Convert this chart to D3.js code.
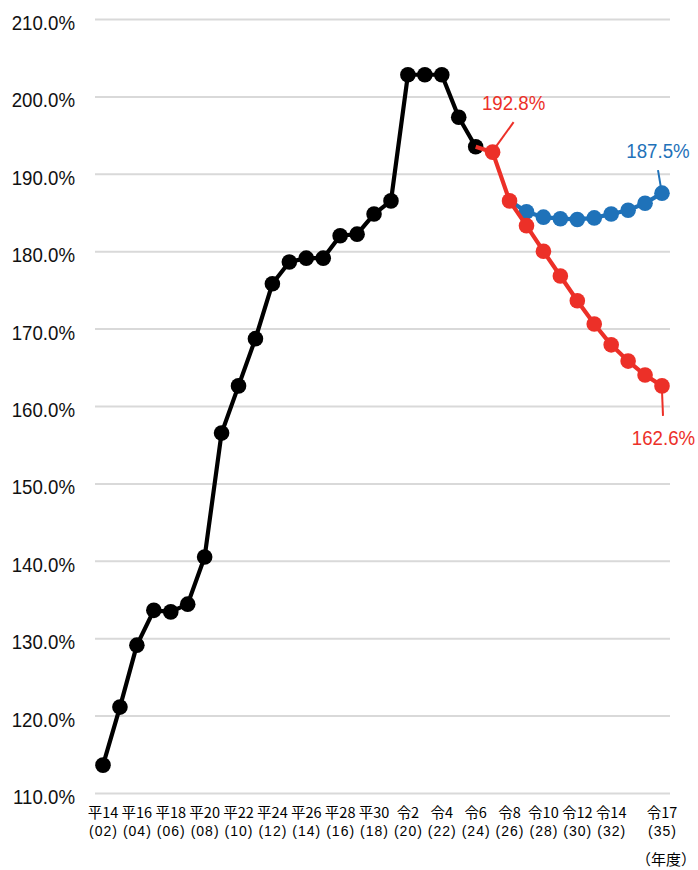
<!DOCTYPE html>
<html>
<head>
<meta charset="utf-8">
<script src="https://cdn.jsdelivr.net/npm/d3@7"></script>
<style>
  html, body { margin: 0; padding: 0; background: #fff; }
  svg { display: block; }
  .num { font-family: "Liberation Sans", Arial, sans-serif; }
  .jp { font-family: "Noto Sans CJK JP", sans-serif; }
</style>
</head>
<body>
<svg id="chart" width="698" height="870"></svg>
<script>
// Actual results (fiscal years 2002–2024)
const actualYears = [2002, 2003, 2004, 2005, 2006, 2007, 2008, 2009, 2010, 2011, 2012,
                     2013, 2014, 2015, 2016, 2017, 2018, 2019, 2020, 2021, 2022, 2023, 2024];
const actualRate = [113.6, 121.1, 129.1, 133.6, 133.4, 134.4, 140.5, 156.5, 162.6, 168.7, 175.8,
                    178.6, 179.1, 179.1, 182.0, 182.2, 184.8, 186.5, 202.8, 202.8, 202.8, 197.3, 193.5];

// Projection with reform (red)
const planYears = [2025, 2026, 2027, 2028, 2029, 2030, 2031, 2032, 2033, 2034, 2035];
const planRate = [192.8, 186.5, 183.3, 180.0, 176.8, 173.6, 170.6, 167.9, 165.8, 164.0, 162.6];

// Projection without reform (blue), branching off the 2026 value
const baseYears = [2027, 2028, 2029, 2030, 2031, 2032, 2033, 2034, 2035];
const baseRate = [185.1, 184.4, 184.2, 184.1, 184.3, 184.8, 185.3, 186.2, 187.5];

// Axis labels
const tickYears = [2002, 2004, 2006, 2008, 2010, 2012, 2014, 2016, 2018, 2020, 2022, 2024,
                   2026, 2028, 2030, 2032, 2035];
const tickEra = ["平14", "平16", "平18", "平20", "平22", "平24", "平26", "平28", "平30",
                 "令2", "令4", "令6", "令8", "令10", "令12", "令14", "令17"];
const tickWestern = ["(02)", "(04)", "(06)", "(08)", "(10)", "(12)", "(14)", "(16)", "(18)",
                     "(20)", "(22)", "(24)", "(26)", "(28)", "(30)", "(32)", "(35)"];
const yTicks = [110, 120, 130, 140, 150, 160, 170, 180, 190, 200, 210];
const unitLabel = "（年度）";

const RED = "#ec3028";
const BLUE = "#1f72b9";
const BLACK = "#000000";
const NARROW = 0.89; // horizontal squeeze for the numeric labels

const svg = d3.select("#chart");

const x = d3.scaleLinear().domain([2002, 2035]).range([103, 662]);
const y = d3.scaleLinear().domain([110, 210]).range([793, 19]);

// Horizontal gridlines + y labels
const yAxis = d3.axisLeft(y)
  .tickValues(yTicks)
  .tickSize(-575)
  .tickPadding(20)
  .tickFormat(d => d.toFixed(1) + "%");

const gy = svg.append("g")
  .attr("transform", "translate(95,0)")
  .call(yAxis);
gy.select(".domain").remove();
gy.selectAll(".tick line").attr("stroke", "#d9d9d9").attr("stroke-width", 2);
gy.selectAll(".tick text")
  .attr("class", "num")
  .attr("fill", "#111")
  .attr("font-size", 21)
  .attr("dy", "0.5em")
  .attr("x", -20 / NARROW)
  .attr("transform", `scale(${NARROW},1)`);

// X labels: era year on top, western year below
const gx = svg.append("g");
gx.selectAll("text.era").data(tickYears).join("text")
  .attr("class", "era jp")
  .attr("text-anchor", "middle")
  .attr("x", d => x(d))
  .attr("y", 818)
  .attr("font-size", 14.5)
  .attr("fill", "#000")
  .text((d, i) => tickEra[i]);
gx.selectAll("text.west").data(tickYears).join("text")
  .attr("class", "west num")
  .attr("text-anchor", "middle")
  .attr("x", d => x(d) + 0.5)
  .attr("y", 836)
  .attr("font-size", 14)
  .attr("letter-spacing", 1)
  .attr("fill", "#000")
  .text((d, i) => tickWestern[i]);

svg.append("text")
  .attr("class", "jp")
  .attr("x", 666)
  .attr("y", 865)
  .attr("text-anchor", "middle")
  .attr("font-size", 15)
  .attr("fill", "#000")
  .text(unitLabel);

const line = d3.line().x(d => x(d[0])).y(d => y(d[1]));
const R = 7.8;

const actual = actualYears.map((yr, i) => [yr, actualRate[i]]);
const plan = planYears.map((yr, i) => [yr, planRate[i]]);
const base = baseYears.map((yr, i) => [yr, baseRate[i]]);

// Actual series
svg.append("path").datum(actual)
  .attr("d", line).attr("fill", "none")
  .attr("stroke", BLACK).attr("stroke-width", 4.2).attr("stroke-linejoin", "round");
svg.append("g").selectAll("circle").data(actual).join("circle")
  .attr("cx", d => x(d[0])).attr("cy", d => y(d[1])).attr("r", R).attr("fill", BLACK);

// Baseline projection (branches from the 2026 planned value)
const branch = plan.find(d => d[0] === 2026);
svg.append("path").datum([branch, ...base])
  .attr("d", line).attr("fill", "none")
  .attr("stroke", BLUE).attr("stroke-width", 4.2).attr("stroke-linejoin", "round");
svg.append("g").selectAll("circle").data(base).join("circle")
  .attr("cx", d => x(d[0])).attr("cy", d => y(d[1])).attr("r", R).attr("fill", BLUE);

// Planned projection (continues from last actual value)
svg.append("path").datum([actual[actual.length - 1], ...plan])
  .attr("d", line).attr("fill", "none")
  .attr("stroke", RED).attr("stroke-width", 4.2).attr("stroke-linejoin", "round");
svg.append("g").selectAll("circle").data(plan).join("circle")
  .attr("cx", d => x(d[0])).attr("cy", d => y(d[1])).attr("r", R).attr("fill", RED);

// Value callouts
function callout(pt, color, x1, y1, x2, y2, tx, ty) {
  const px = x(pt[0]), py = y(pt[1]);
  svg.append("line")
    .attr("x1", px + x1).attr("y1", py + y1)
    .attr("x2", px + x2).attr("y2", py + y2)
    .attr("stroke", color).attr("stroke-width", 2);
  svg.append("text")
    .attr("class", "num")
    .attr("transform", `translate(${px + tx},${py + ty}) scale(${NARROW},1)`)
    .attr("text-anchor", "middle")
    .attr("font-size", 21)
    .attr("fill", color)
    .text(pt[1].toFixed(1) + "%");
}
const firstPlan = plan[0];
const lastPlan = plan[plan.length - 1];
const lastBase = base[base.length - 1];
callout(firstPlan, RED, 3, -5, 21, -30, 21, -42);
callout(lastBase, BLUE, -1, -5, -4, -23, -4, -35);
callout(lastPlan, RED, 0, 5, 1, 30, 1.5, 59);
</script>
</body>
</html>
